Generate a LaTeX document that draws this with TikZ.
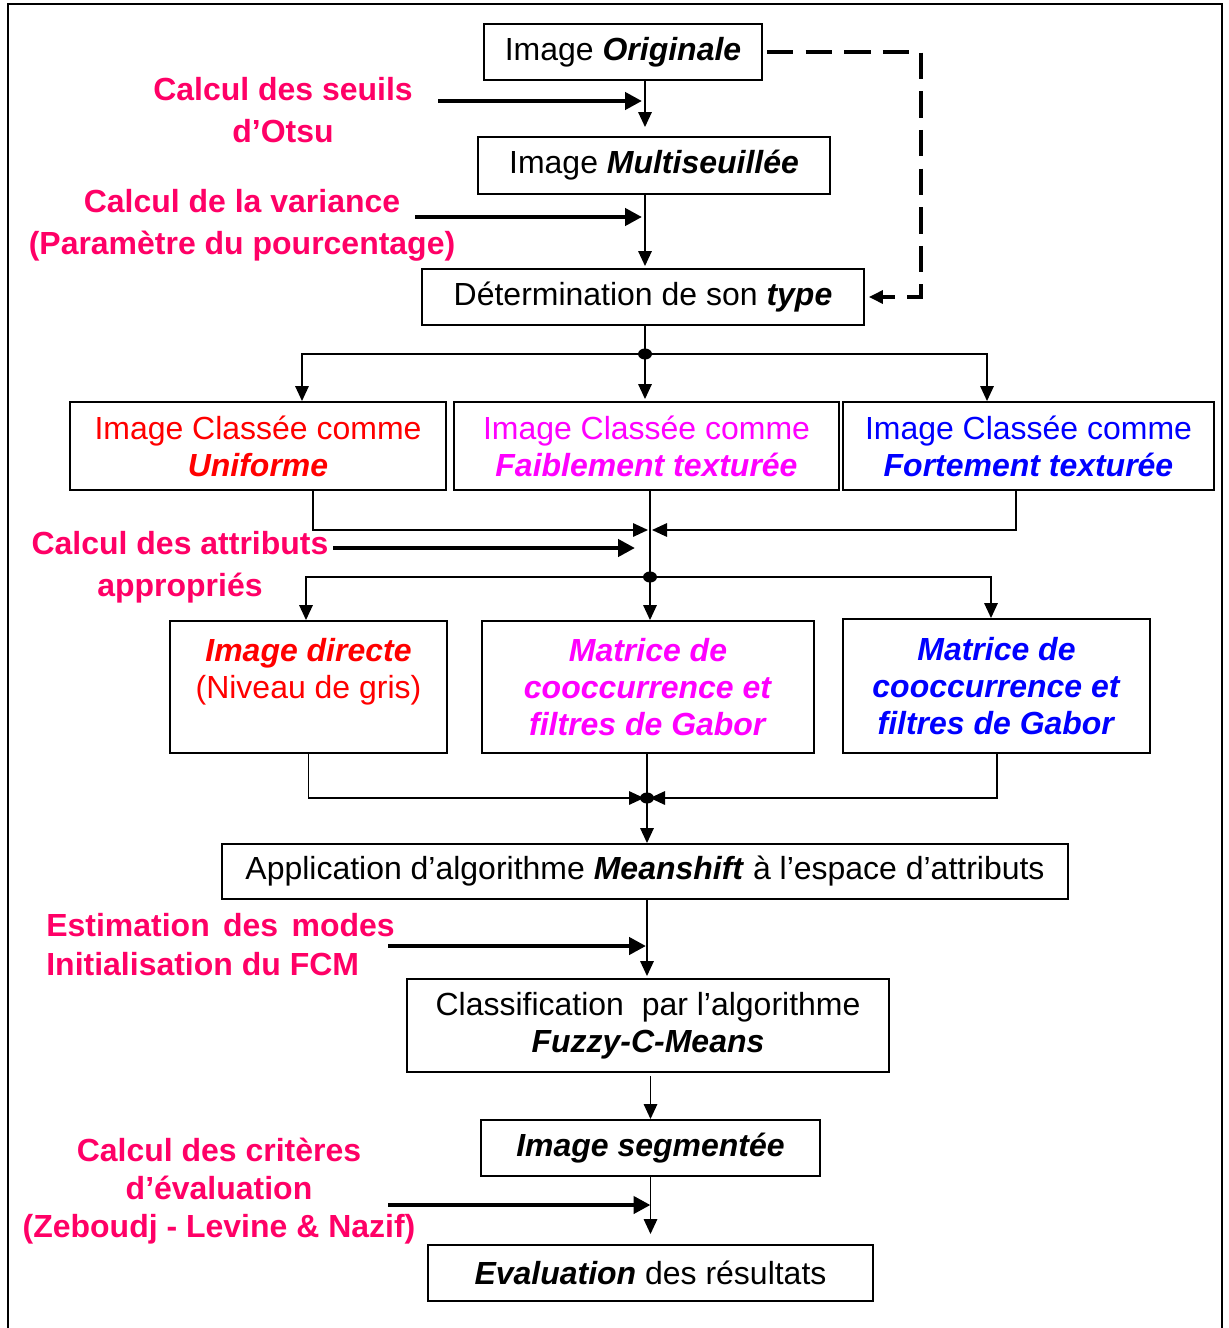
\documentclass[tikz,border=0pt]{standalone}
\usepackage{fontspec}
\setmainfont{Liberation Sans}
\usetikzlibrary{arrows.meta,calc,shapes.geometric}
\definecolor{rosered}{RGB}{255,0,102}
\definecolor{pinkmag}{RGB}{255,0,255}
\definecolor{deepblue}{RGB}{0,0,255}
\newcommand{\bfit}[1]{\textbf{\textit{#1}}}

\begin{document}
\begin{tikzpicture}
[x=0.02cm,y=-0.02cm,
	every node/.style={inner sep=0pt,align=center,font=\fontsize{18.2}{21}\selectfont},
	box/.style={draw,line width=1.1pt},
	side/.style={text=rosered,font=\fontsize{18.2}{23.9}\selectfont\bfseries},
	arr/.style={-{Triangle[length=0.3cm,width=0.27cm]},line width=0.9pt},
	fat/.style={-{Triangle[length=0.34cm,width=0.34cm]},line width=2.8pt},
	dashline/.style={line width=1.9pt,dash pattern=on 15pt off 7pt},
	jdot/.style={ellipse,fill,minimum width=0.28cm,minimum height=0.22cm}]
\useasboundingbox (0,0) rectangle (1229,1328);
\draw[line width=1.4pt] (8,1328) -- (8,4) -- (1222,4) -- (1222,1328);

% boxes of the main chain
\node[box,minimum width=5.56cm,minimum height=1.12cm] (orig) at (623,52) {Image \bfit{Originale}};
\node[box,minimum width=7.04cm,minimum height=1.14cm] (multi) at (654,165.5) {Image \bfit{Multiseuillée}};
\node[box,minimum width=8.84cm,minimum height=1.12cm] (type) at (643,297) {Détermination de son \bfit{type}};

\node[box,text=red,minimum width=7.52cm,minimum height=1.76cm] (unif) at (258,446)
	{Image Classée comme\\\bfit{Uniforme}};
\node[box,text=pinkmag,minimum width=7.7cm,minimum height=1.76cm] (faible) at (646.5,446)
	{Image Classée comme\\\bfit{Faiblement texturée}};
\node[box,text=deepblue,minimum width=7.42cm,minimum height=1.76cm] (forte) at (1028.5,446)
	{Image Classée comme\\\bfit{Fortement texturée}};

\node[box,text=red,minimum width=5.54cm,minimum height=2.64cm] (direct) at (308.5,687)
	{\bfit{Image directe}\\(Niveau de gris)\\\mbox{}};
\node[box,text=pinkmag,minimum width=6.64cm,minimum height=2.64cm] (matm) at (648,687)
	{\bfit{Matrice de}\\\bfit{cooccurrence et}\\\bfit{filtres de Gabor}};
\node[box,text=deepblue,minimum width=6.14cm,minimum height=2.68cm] (matb) at (996.5,686)
	{\bfit{Matrice de}\\\bfit{cooccurrence et}\\\bfit{filtres de Gabor}};

\node[box,minimum width=16.92cm,minimum height=1.1cm] (meanshift) at (645,871.5)
	{Application d'algorithme \bfit{Meanshift} à l'espace d'attributs};
\node[box,minimum width=9.64cm,minimum height=1.86cm] (fcm) at (648,1025.5)
	{Classification\hspace{0.18cm} par l'algorithme\\\bfit{Fuzzy-C-Means}};
\node[box,minimum width=6.78cm,minimum height=1.12cm] (segm) at (650.5,1148) {\bfit{Image segmentée}};
\node[box,minimum width=8.9cm,minimum height=1.12cm] (eval) at (650.5,1273) {\bfit{Evaluation} des résultats};

% side notes
\node[side] (n1) at (283,110) {Calcul des seuils\\d'Otsu};
\node[side] (n2) at (242,225) {Calcul de la variance\\(Paramètre du pourcentage)};
\node[side] (n3) at (180,567) {Calcul des attributs\\appropriés};
\node[side,anchor=west,align=left,font=\fontsize{18.2}{22.2}\selectfont\bfseries] (n4) at (46,945)
	{Estimation\hspace{0.09cm} des\hspace{0.09cm} modes\\Initialisation du FCM};
\node[side,font=\fontsize{18.2}{21.6}\selectfont\bfseries] (n5) at (219,1191)
	{Calcul des critères\\d'évaluation\\(Zeboudj - Levine \& Nazif)};

% junctions
\coordinate (j1) at (645,354);
\coordinate (m1) at (650,530);
\coordinate (j2) at (650,577);
\coordinate (j3) at (647,798);
\coordinate (dc) at (921,0);
\coordinate (f1) at (438,101);
\coordinate (f2) at (415,217);
\coordinate (f3) at (333,548);
\coordinate (f4) at (388,946);
\coordinate (f5) at (388,1205);

\draw[arr,shorten >=0.18cm] (orig.south -| j1) -- (multi.north -| j1);
\draw[arr,shorten >=0.04cm] (multi.south -| j1) -- (type.north -| j1);
\draw[dashline,-{Triangle[length=0.28cm,width=0.26cm]}] ([xshift=0.08cm]orig.east) -- (orig.east -| dc)
	-- (type.east -| dc) -- ([xshift=0.08cm]type.east);

\draw[line width=0.9pt] (type.south -| j1) -- (j1);
\draw[arr,shorten >=0.04cm] (j1) -- (faible.north -| j1);
\draw[arr] (j1) -| ([xshift=0.88cm]unif.north);
\draw[arr] (j1) -| ([xshift=-0.83cm]forte.north);

\draw[arr,shorten >=0.04cm] ([xshift=1.1cm]unif.south) |- (m1);
\draw[arr,shorten >=0.04cm] ([xshift=-0.25cm]forte.south) |- (m1);
\draw[line width=0.9pt] (faible.south -| m1) -- (j2);

\draw[arr] (j2) -| ([xshift=-0.05cm]direct.north);
\draw[arr] (j2) -- (matm.north -| j2);
\draw[arr] (j2) -| ([xshift=-0.11cm]matb.north);

\draw[arr,shorten >=0.06cm] (direct.south) |- (j3);
\draw[arr,shorten >=0.06cm] ([xshift=0.01cm]matb.south) |- (j3);
\draw[line width=0.9pt] (matm.south -| j3) -- (j3);
\draw[arr] (j3) -- (meanshift.north -| j3);
\draw[arr,shorten >=0.04cm] (meanshift.south -| j3) -- (fcm.north -| j3);
\draw[arr] ([yshift=-0.06cm]fcm.south -| segm.north) -- (segm.north);
\draw[arr,shorten >=0.2cm] (segm.south) -- (eval.north -| segm.south);

\foreach \n in {j1,j2,j3}
	\node[jdot] (d\n) at (\n) {};

\path
\foreach \startNode/\endNode/\gap in {f1/j1/0.06, f2/j1/0.06, f3/m1/0.3, f4/j3/0.02, f5/segm.south/0.0}
{
	(\startNode) edge[fat,shorten >=\gap cm] (\startNode -| \endNode)
};
\end{tikzpicture}
\end{document}
